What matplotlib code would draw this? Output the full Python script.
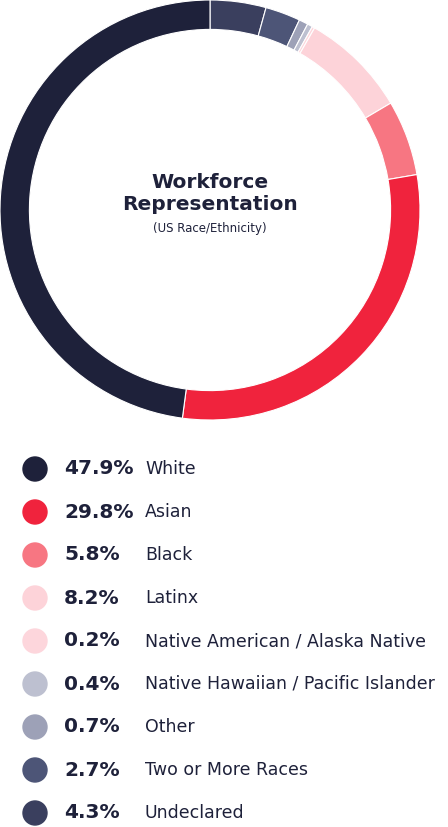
import matplotlib.pyplot as plt
from matplotlib.patches import Circle

labels = ["White", "Asian", "Black", "Latinx", "Native American / Alaska Native",
          "Native Hawaiian / Pacific Islander", "Other", "Two or More Races", "Undeclared"]
values = [47.9, 29.8, 5.8, 8.2, 0.2, 0.4, 0.7, 2.7, 4.3]
colors = ["#1e213a", "#f0233d", "#f77682", "#fdd3d9", "#fdd6dc",
          "#bdc0d0", "#9da1b7", "#4d5577", "#3a3f5e"]

# clockwise from the top, in reverse legend order
ring_order = [8, 7, 6, 5, 4, 3, 2, 1, 0]

fig = plt.figure(figsize=(4.48, 8.27), dpi=100)
ax = fig.add_axes([0, 407 / 827, 420 / 448, 420 / 827])
ax.pie([values[i] for i in ring_order], colors=[colors[i] for i in ring_order],
       startangle=90, counterclock=False, radius=1.0,
       wedgeprops=dict(width=0.14, edgecolor="white", linewidth=0.8))
ax.set_xlim(-1, 1)
ax.set_ylim(-1, 1)
ax.set_aspect("equal")
ax.text(0, 0.08, "Workforce\nRepresentation", ha="center", va="center",
        fontsize=14.5, fontweight="semibold", color="#1e213a", linespacing=1.2)
ax.text(0, -0.09, "(US Race/Ethnicity)", ha="center", va="center",
        fontsize=8.5, color="#1e213a")

lax = fig.add_axes([0, 0, 1, 1])
lax.set_xlim(0, 448)
lax.set_ylim(827, 0)
lax.axis("off")
for k, (lab, v, c) in enumerate(zip(labels, values, colors)):
    y = 469 + 43 * k
    lax.add_patch(Circle((35, y), 12, color=c))
    lax.text(64, y, f"{v}%", va="center", ha="left", fontsize=14.5,
             fontweight="bold", color="#1e213a")
    lax.text(145, y, lab, va="center", ha="left", fontsize=12.5, color="#1e213a")

fig.savefig("out.png", dpi=100)
